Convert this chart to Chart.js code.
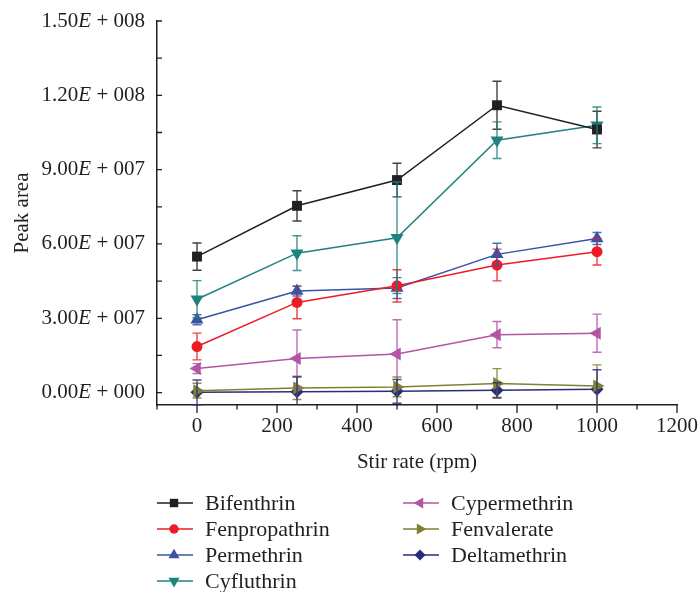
<!DOCTYPE html>
<html>
<head>
<meta charset="utf-8">
<script src="https://cdn.jsdelivr.net/npm/chart.js@4/dist/chart.umd.min.js"></script>
<style>
body { margin: 0; background: #fff; }
#wrap { position: relative; width: 699px; height: 592px; overflow: hidden; }
#chart { position: absolute; left: 0; top: 0; }
#legend { position: absolute; left: 0; top: 0; width: 699px; height: 592px; font-family: 'Liberation Serif', serif; font-size: 22px; color: #231f20; }
.item { position: absolute; height: 26px; display: flex; align-items: center; white-space: nowrap; }
.item canvas { margin-right: 12px; }
</style>
</head>
<body>
<div id="wrap">
  <canvas id="chart" width="699" height="480"></canvas>
  <div id="legend"></div>
</div>
<script>
// stir rate (rpm)
const stirRates = [0, 250, 500, 750, 1000];

const bifenthrin     = [5.49e7, 7.54e7, 8.58e7, 1.160e8, 1.062e8];
const bifenthrinErr  = [0.55e7, 0.61e7, 0.68e7, 0.97e7, 0.74e7];
const fenpropathrin    = [1.86e7, 3.64e7, 4.31e7, 5.15e7, 5.69e7];
const fenpropathrinErr = [0.54e7, 0.66e7, 0.65e7, 0.64e7, 0.54e7];
const permethrin     = [2.94e7, 4.10e7, 4.22e7, 5.58e7, 6.22e7];
const permethrinErr  = [0.20e7, 0.20e7, 0.42e7, 0.45e7, 0.24e7];
const cyfluthrin     = [3.77e7, 5.63e7, 6.25e7, 1.019e8, 1.079e8];
const cyfluthrinErr  = [0.75e7, 0.70e7, 2.25e7, 0.74e7, 0.74e7];
const cypermethrin    = [0.97e7, 1.38e7, 1.56e7, 2.34e7, 2.40e7];
const cypermethrinErr = [0.20e7, 1.15e7, 1.38e7, 0.53e7, 0.77e7];
const fenvalerate    = [0.08e7, 0.19e7, 0.23e7, 0.37e7, 0.27e7];
const fenvalerateErr = [0.30e7, 0.47e7, 0.40e7, 0.60e7, 0.85e7];
const deltamethrin    = [0.01e7, 0.03e7, 0.05e7, 0.10e7, 0.14e7];
const deltamethrinErr = [0.50e7, 0.60e7, 0.48e7, 0.30e7, 0.78e7];

const xTicks = [0, 200, 400, 600, 800, 1000, 1200];
const yTicks = [0, 3e7, 6e7, 9e7, 1.2e8, 1.5e8];
// mantissa / exponent parts, "E" is drawn in italics
const yTickMant = ['0.00', '3.00', '6.00', '9.00', '1.20', '1.50'];
const yTickExp = [' + 000', ' + 007', ' + 007', ' + 007', ' + 008', ' + 008'];

const ink = '#231f20';
const fontFamily = "'Liberation Serif', serif";
const font = { family: fontFamily, size: 21 };

const series = [
    { label: 'Bifenthrin',    data: bifenthrin,    err: bifenthrinErr,    color: '#231f20', style: 'rect',     rot: 0,   r: 7 },
    { label: 'Fenpropathrin', data: fenpropathrin, err: fenpropathrinErr, color: '#ed1c24', style: 'circle',   rot: 0,   r: 5.5 },
    { label: 'Permethrin',    data: permethrin,    err: permethrinErr,    color: '#3953a4', style: 'triangle', rot: 0,   r: 7.5 },
    { label: 'Cyfluthrin',    data: cyfluthrin,    err: cyfluthrinErr,    color: '#1f837d', style: 'triangle', rot: 180, r: 7.5 },
    { label: 'Cypermethrin',  data: cypermethrin,  err: cypermethrinErr,  color: '#b454a6', style: 'triangle', rot: 270, r: 7.5 },
    { label: 'Fenvalerate',   data: fenvalerate,   err: fenvalerateErr,   color: '#808033', style: 'triangle', rot: 90,  r: 7.5 },
    { label: 'Deltamethrin',  data: deltamethrin,  err: deltamethrinErr,  color: '#2b2d7c', style: 'rectRot',  rot: 0,   r: 6.5 },
];

// error bars, axis tick marks (y inward, x outward) and y tick labels
const extras = {
    id: 'extras',
    afterDatasetsDraw(chart) {
        const ctx = chart.ctx;
        const xs = chart.scales.x, ys = chart.scales.y;
        const bottom = chart.chartArea.bottom;
        ctx.save();
        ctx.lineWidth = 1.4;
        series.forEach((s, i) => {
            ctx.strokeStyle = s.color;
            ctx.globalAlpha = 0.85;
            s.data.forEach((v, j) => {
                const x = xs.getPixelForValue(stirRates[j]);
                const t = ys.getPixelForValue(v + s.err[j]);
                const b = Math.min(ys.getPixelForValue(v - s.err[j]), bottom);
                ctx.beginPath();
                ctx.moveTo(x, t); ctx.lineTo(x, b);
                ctx.moveTo(x - 4.5, t); ctx.lineTo(x + 4.5, t);
                if (b < bottom) { ctx.moveTo(x - 4.5, b); ctx.lineTo(x + 4.5, b); }
                ctx.stroke();
            });
        });
        ctx.globalAlpha = 1;
        ctx.strokeStyle = ink;
        ctx.lineWidth = 1.3;
        const axisY = chart.chartArea.bottom, axisX = chart.chartArea.left;
        ctx.beginPath();
        for (let v = -100; v <= 1200; v += 100) {
            const x = xs.getPixelForValue(v);
            ctx.moveTo(x, axisY);
            ctx.lineTo(x, axisY + (v % 200 === 0 ? 8 : 4.5));
        }
        for (let v = 0; v <= 1.5e8; v += 1.5e7) {
            const y = ys.getPixelForValue(v);
            ctx.moveTo(axisX, y);
            ctx.lineTo(axisX + 5, y);
        }
        ctx.stroke();

        // y labels
        const upright = '21px ' + fontFamily;
        const italic = 'italic 21px ' + fontFamily;
        ctx.fillStyle = ink;
        ctx.textBaseline = 'middle';
        ctx.textAlign = 'left';
        yTicks.forEach((v, i) => {
            const y = ys.getPixelForValue(v);
            ctx.font = upright;
            const w1 = ctx.measureText(yTickMant[i]).width;
            const w3 = ctx.measureText(yTickExp[i]).width;
            ctx.font = italic;
            const w2 = ctx.measureText('E').width;
            let x = axisX - 12 - (w1 + w2 + w3);
            ctx.font = upright;
            ctx.fillText(yTickMant[i], x, y);
            ctx.font = italic;
            ctx.fillText('E', x + w1, y);
            ctx.font = upright;
            ctx.fillText(yTickExp[i], x + w1 + w2, y);
        });
        ctx.restore();
    }
};

let ctx = document.getElementById('chart');
let peakChart = new Chart(ctx, {
    type: 'line',
    data: {
        datasets: series.map(s => ({
            label: s.label,
            data: s.data.map((v, j) => ({ x: stirRates[j], y: v })),
            borderColor: s.color,
            backgroundColor: s.color,
            borderWidth: 1.5,
            tension: 0,
            pointStyle: s.style,
            pointRotation: s.rot,
            pointRadius: s.r,
            pointBorderWidth: 0,
        }))
    },
    options: {
        responsive: false,
        animation: false,
        layout: { padding: { top: 21, right: 22, left: 0, bottom: 0 } },
        plugins: { legend: { display: false }, tooltip: { enabled: false } },
        scales: {
            x: {
                type: 'linear',
                min: -100,
                max: 1200,
                afterBuildTicks: s => { s.ticks = xTicks.map(v => ({ value: v })); },
                afterFit: s => { s.height = 75; s.paddingLeft = 0; s.paddingRight = 0; },
                grid: { drawOnChartArea: false, drawTicks: false },
                border: { color: ink, width: 1.5 },
                ticks: { font: font, color: ink, padding: 9, maxRotation: 0, autoSkip: false, callback: v => String(v) },
                title: { display: true, text: 'Stir rate (rpm)', font: font, color: ink, padding: { top: 0, bottom: 5 } },
            },
            y: {
                min: -5e6,
                max: 1.5e8,
                afterBuildTicks: s => { s.ticks = yTicks.map(v => ({ value: v })); },
                afterFit: s => { s.width = 157; s.paddingTop = 0; s.paddingBottom = 0; },
                grid: { drawOnChartArea: false, drawTicks: false },
                border: { color: ink, width: 1.5 },
                ticks: { display: false },
                title: { display: true, text: 'Peak area', font: font, color: ink, padding: { top: 10, bottom: 0 } },
            },
        },
    },
    plugins: [extras],
});

// legend: two columns, line with marker
function drawMarker(c, s, x, y) {
    c.fillStyle = s.color;
    c.beginPath();
    const r = s.r * 0.85;
    if (s.style === 'rect') {
        const h = r * Math.SQRT1_2;
        c.rect(x - h, y - h, 2 * h, 2 * h);
    } else if (s.style === 'circle') {
        c.arc(x, y, r, 0, Math.PI * 2);
    } else if (s.style === 'rectRot') {
        c.moveTo(x - r, y); c.lineTo(x, y - r); c.lineTo(x + r, y); c.lineTo(x, y + r);
    } else {
        let a = s.rot * Math.PI / 180;
        for (let k = 0; k < 3; k++) {
            c.lineTo(x + Math.sin(a) * r, y - Math.cos(a) * r);
            a += Math.PI * 2 / 3;
        }
    }
    c.closePath();
    c.fill();
}

const legend = document.getElementById('legend');
const legendCols = [157, 403];
const legendRows = [503, 529, 555, 581];
series.forEach((s, i) => {
    const col = i < 4 ? 0 : 1;
    const row = i < 4 ? i : i - 4;
    const item = document.createElement('div');
    item.className = 'item';
    item.style.left = legendCols[col] + 'px';
    item.style.top = (legendRows[row] - 13) + 'px';
    const mk = document.createElement('canvas');
    mk.width = 36; mk.height = 20;
    const c = mk.getContext('2d');
    c.strokeStyle = s.color;
    c.lineWidth = 1.5;
    c.beginPath(); c.moveTo(0, 10); c.lineTo(36, 10); c.stroke();
    drawMarker(c, s, 17, 10);
    item.appendChild(mk);
    const span = document.createElement('span');
    span.textContent = s.label;
    item.appendChild(span);
    legend.appendChild(item);
});
</script>
</body>
</html>
